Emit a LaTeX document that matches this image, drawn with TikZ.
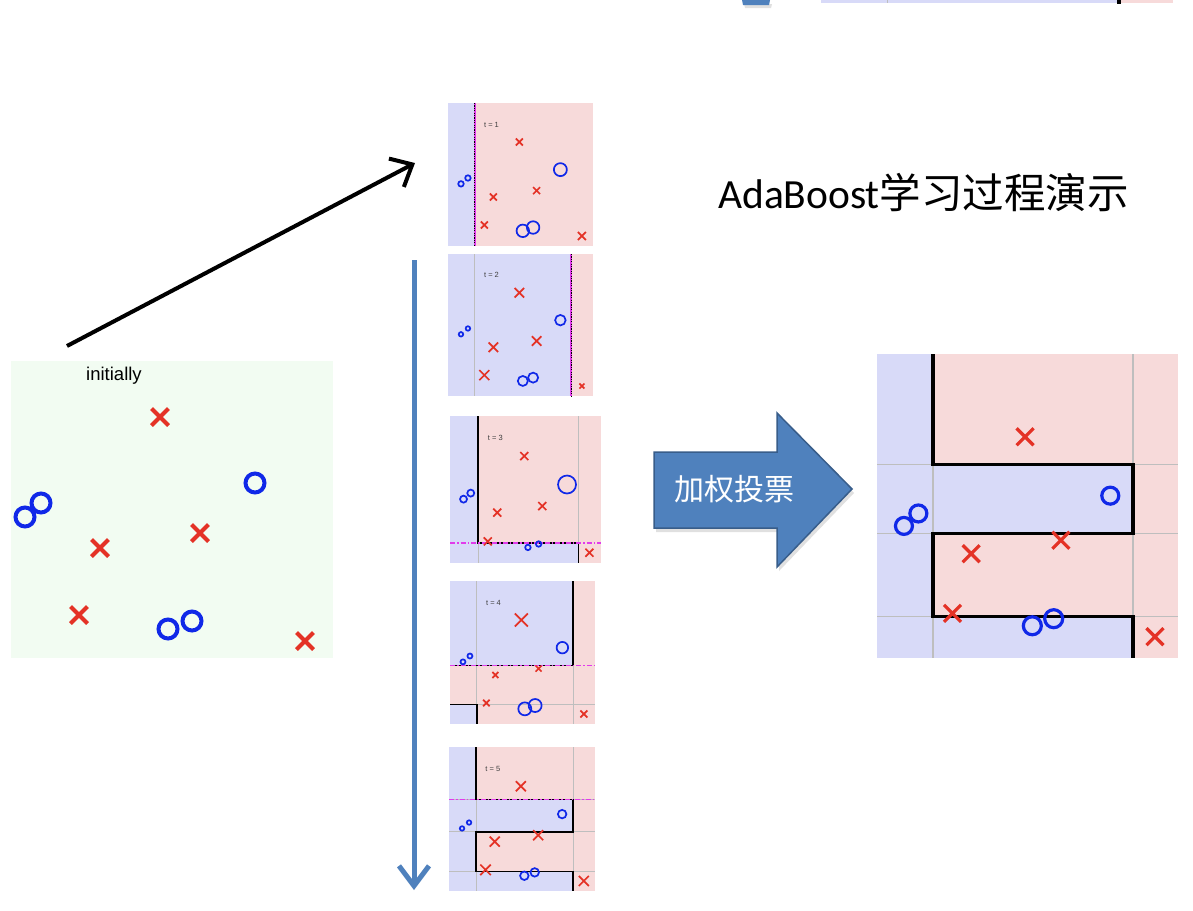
\documentclass[tikz,border=0pt]{standalone}
\usepackage{fontspec}
\setmainfont{Liberation Sans}
\newfontfamily\cjkfont{Noto Sans CJK SC}
\newfontfamily\carlfont{Carlito}
\usetikzlibrary{arrows.meta,shapes.misc}
\definecolor{xred}{RGB}{228,50,38}
\definecolor{oblue}{RGB}{16,40,232}
\definecolor{bluec}{RGB}{216,218,248}
\definecolor{pinkc}{RGB}{247,218,218}
\definecolor{gridc}{RGB}{190,190,190}
\definecolor{magc}{RGB}{225,60,235}
\definecolor{greenbg}{RGB}{242,252,242}
\definecolor{arrblue}{RGB}{79,129,189}
\definecolor{arrborder}{RGB}{56,93,138}
\newcommand{\vxa}{0.186}
\newcommand{\vxb}{0.850}
\newcommand{\hya}{0.364}
\newcommand{\hyb}{0.590}
\newcommand{\hyc}{0.864}
\tikzset{
  xm/.style={cross out, draw=xred, minimum size=#1pt, inner sep=0pt, outer sep=0pt},
  om/.style={circle, draw=oblue, minimum size=#1pt, inner sep=0pt, outer sep=0pt},
  gridline/.style={draw=gridc, line width=1pt},
  bound/.style={draw=black, line width=1.6pt},
  weak/.style={draw=magc, line width=1.5pt, dash pattern=on 5pt off 2pt on 1.5pt off 2pt},
  tlab/.style={font=\fontsize{7.5}{8}\selectfont, text=black!75, inner sep=0pt},
}
\newcommand{\dpts}[7]{%
  \node[xm=#1] at (0.492,0.2725) {};
  \node[om=#2] at (0.775,0.466) {};
  \node[om=#3] at (0.0895,0.5655) {};
  \node[om=#3] at (0.1374,0.5245) {};
  \node[xm=#4] at (0.313,0.657) {};
  \node[xm=#4] at (0.611,0.6126) {};
  \node[xm=#5] at (0.2506,0.853) {};
  \node[om=#6] at (0.516,0.894) {};
  \node[om=#6] at (0.587,0.8707) {};
  \node[xm=#7] at (0.9235,0.930) {};
}
\begin{document}
\begin{tikzpicture}[x=1pt,y=-1pt]
\useasboundingbox (0,0) rectangle (1193,910);
\fill[white] (0,0) rectangle (1193,910);

% cut-off elements at the top edge
\fill[black!12] (744,4) -- (772,4) -- (771,8) -- (745,8) -- cycle;
\fill[arrblue] (742,0) -- (770,0) -- (769,5) -- (743,5) -- cycle;
\fill[bluec] (821,0) rectangle (1119,3);
\fill[pinkc] (1121,0) rectangle (1173,3);
\draw[gridc, line width=1pt] (887,0) -- (887,3);
\fill[black] (1117,0) rectangle (1121,3.5);

% initial panel
\fill[greenbg] (11,361) rectangle (333,658);
\node[font=\fontsize{18.5}{20}\selectfont, inner sep=0pt] (initlab) at (114,376) {initially};
\begin{scope}[line width=4pt]
  \node[xm=17] at (160,417) {};
  \node[om=19] at (255,483) {};
  \node[om=19] at (25,517) {};
  \node[om=19] at (41,503) {};
  \node[xm=17] at (100,548) {};
  \node[xm=17] at (200,533) {};
  \node[xm=17] at (79,615) {};
  \node[om=19] at (168,629) {};
  \node[om=19] at (192,621) {};
  \node[xm=17] at (305,641) {};
\end{scope}

% black arrow
\coordinate (ka) at (67,346);
\coordinate (kb) at (415,163);
\draw[black, line width=4pt, -{Straight Barb[length=18pt,width=32pt]}] (ka) -- (kb);

% blue vertical arrow
\coordinate (va) at (414,260);
\coordinate (vb) at (414,890);
\draw[arrblue, line width=5pt, -{Straight Barb[length=20pt,width=30pt]}] (va) -- (vb);

% t = 1
\begin{scope}[shift={(448,103)},xscale=145,yscale=143,line width=1.7pt]
  \fill[pinkc] (0,0) rectangle (1,1);
  \fill[bluec] (0,0) rectangle (\vxa,1);
  \draw[magc, line width=2pt] (\vxa,0) -- (\vxa,1);
  \draw[black, line width=1pt, dash pattern=on 1.2pt off 1.2pt] (\vxa,0) -- (\vxa,1);
  \node[tlab] at (0.3,0.155) {t = 1};
  \dpts{7}{13}{5.5}{7}{7}{12.5}{8}
\end{scope}

% t = 2
\begin{scope}[shift={(448,254)},xscale=145,yscale=142,line width=1.7pt]
  \fill[bluec] (0,0) rectangle (1,1);
  \fill[pinkc] (\vxb,0) rectangle (1,1);
  \draw[gridline] (\vxa,0) -- (\vxa,1);
  \draw[magc, line width=2pt] (\vxb,0) -- (\vxb,1);
  \draw[black, line width=1pt, dash pattern=on 1.2pt off 1.2pt] (\vxb,0) -- (\vxb,1);
  \node[tlab] at (0.3,0.15) {t = 2};
  \dpts{9.5}{10.5}{4.5}{9.5}{10}{10}{5}
\end{scope}

% t = 3
\begin{scope}[shift={(450,416)},xscale=151,yscale=147,line width=1.7pt]
  \fill[pinkc] (0,0) rectangle (1,1);
  \fill[bluec] (0,0) rectangle (\vxa,1);
  \fill[bluec] (\vxa,\hyc) rectangle (\vxb,1);
  \draw[gridline] (\vxa,\hyc) -- (\vxa,1);
  \draw[gridline] (\vxb,0) -- (\vxb,\hyc);
  \draw[bound] (\vxa,0) -- (\vxa,\hyc) -- (\vxb,\hyc) -- (\vxb,1);
  \draw[weak] (0,\hyc) -- (1,\hyc);
  \node[tlab] at (0.3,0.15) {t = 3};
  \dpts{8}{18}{7}{8}{8}{5.5}{8}
\end{scope}

% t = 4
\begin{scope}[shift={(450,581)},xscale=145,yscale=143,line width=1.7pt]
  \fill[pinkc] (0,0) rectangle (1,1);
  \fill[bluec] (0,0) rectangle (\vxb,\hyb);
  \fill[bluec] (0,\hyc) rectangle (\vxa,1);
  \draw[gridline] (\vxa,0) -- (\vxa,\hyc);
  \draw[gridline] (\vxb,\hyb) -- (\vxb,1);
  \draw[gridline] (\vxa,\hyc) -- (1,\hyc);
  \draw[bound] (\vxb,0) -- (\vxb,\hyb) -- (0,\hyb);
  \draw[bound] (0,\hyc) -- (\vxa,\hyc) -- (\vxa,1);
  \draw[weak] (0,\hyb) -- (1,\hyb);
  \node[tlab] at (0.3,0.15) {t = 4};
  \dpts{13}{11.5}{5}{6}{6.5}{13}{7}
\end{scope}

% t = 5
\begin{scope}[shift={(449,747)},xscale=146,yscale=144,line width=1.7pt]
  \fill[pinkc] (0,0) rectangle (1,1);
  \fill[bluec] (0,0) rectangle (\vxa,1);
  \fill[bluec] (\vxa,\hya) rectangle (\vxb,\hyb);
  \fill[bluec] (\vxa,\hyc) rectangle (\vxb,1);
  \draw[gridline] (\vxa,0) -- (\vxa,1);
  \draw[gridline] (\vxb,0) -- (\vxb,1);
  \draw[gridline] (0,\hya) -- (1,\hya);
  \draw[gridline] (0,\hyb) -- (1,\hyb);
  \draw[gridline] (0,\hyc) -- (1,\hyc);
  \draw[bound] (\vxa,0) -- (\vxa,\hya) -- (\vxb,\hya) -- (\vxb,\hyb) -- (\vxa,\hyb) -- (\vxa,\hyc) -- (\vxb,\hyc) -- (\vxb,1);
  \draw[weak] (0,\hya) -- (1,\hya);
  \node[tlab] at (0.3,0.15) {t = 5};
  \dpts{10}{8.5}{4.5}{10}{10.5}{8.5}{10}
\end{scope}

% final combined classifier
\begin{scope}[shift={(877,354)},xscale=301,yscale=304,line width=3.2pt]
  \fill[pinkc] (0,0) rectangle (1,1);
  \fill[bluec] (0,0) rectangle (\vxa,1);
  \fill[bluec] (\vxa,\hya) rectangle (\vxb,\hyb);
  \fill[bluec] (\vxa,\hyc) rectangle (\vxb,1);
  \draw[gridc, line width=1.6pt] (\vxa,0) -- (\vxa,1);
  \draw[gridc, line width=1.6pt] (\vxb,0) -- (\vxb,1);
  \draw[gridc, line width=1.6pt] (0,\hya) -- (1,\hya);
  \draw[gridc, line width=1.6pt] (0,\hyb) -- (1,\hyb);
  \draw[gridc, line width=1.6pt] (0,\hyc) -- (1,\hyc);
  \draw[black, line width=3.6pt] (\vxa,0) -- (\vxa,\hya) -- (\vxb,\hya) -- (\vxb,\hyb) -- (\vxa,\hyb) -- (\vxa,\hyc) -- (\vxb,\hyc) -- (\vxb,1);
  \dpts{17}{17}{17}{17}{17}{18}{17}
\end{scope}

% block arrow
\fill[black!12] (656,456) -- (779,456) -- (779,417) -- (854,493) -- (779,571) -- (779,532) -- (656,532) -- cycle;
\draw[fill=arrblue, draw=arrborder, line width=1.5pt, line join=miter]
  (654,452) -- (777,452) -- (777,413) -- (852,489) -- (777,567) -- (777,528) -- (654,528) -- cycle;
\node[text=white, font=\cjkfont\fontsize{30}{30}\selectfont, inner sep=0pt] (vote) at (734,489) {加权投票};

% title
\node[anchor=base west, inner sep=0pt, font=\fontsize{41.5}{44}\selectfont] (title) at (718,208)
  {{\carlfont AdaBoost}{\cjkfont 学习过程演示}};
\end{tikzpicture}
\end{document}
